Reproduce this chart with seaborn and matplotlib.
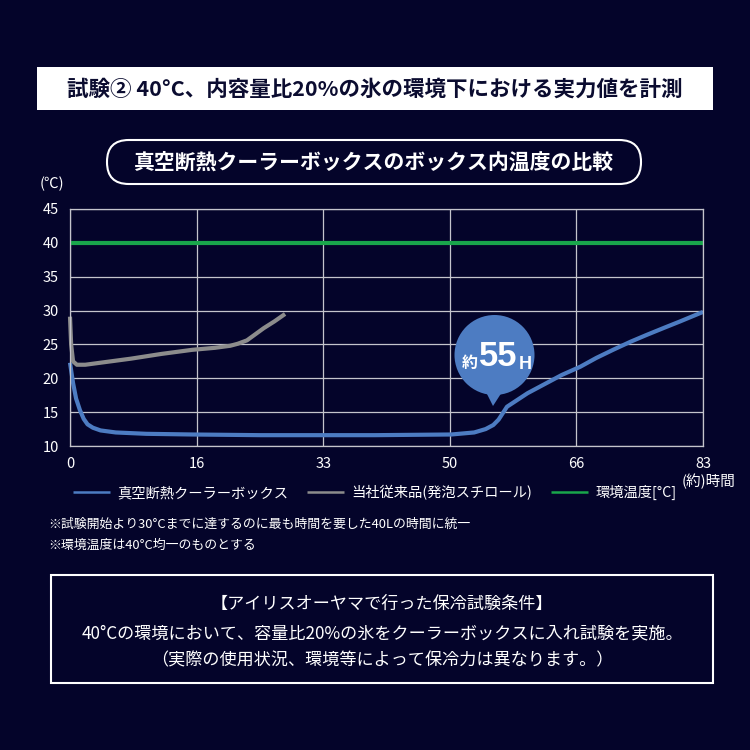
import numpy as np
import pandas as pd
import matplotlib
matplotlib.use("Agg")
import matplotlib.pyplot as plt
import seaborn as sns
from matplotlib.patches import Rectangle, FancyBboxPatch, Circle, Polygon

# ---------------- data ----------------
vacuum_hours = [0, 0.4, 0.8, 1.3, 1.8, 2.3, 3, 4, 6, 10, 16, 25, 33, 40, 50, 53,
                54.5, 55.5, 56.2, 57.3, 60, 62.5, 64.5, 66.9, 69, 71.2, 73.5,
                75.6, 78, 80, 83]
vacuum_temp = [22.3, 19.3, 17.0, 15.3, 14.0, 13.2, 12.7, 12.3, 12.0, 11.8, 11.7,
               11.6, 11.6, 11.6, 11.7, 12.0, 12.5, 13.1, 13.9, 15.8, 17.8, 19.3,
               20.5, 21.7, 23.0, 24.2, 25.4, 26.4, 27.5, 28.4, 29.8]
foam_hours = [0, 0.15, 0.4, 0.9, 2, 4, 8, 12, 16, 19, 21, 22, 23.2, 24.3, 25.4,
              26.8, 28.2]
foam_temp = [29.1, 25.0, 22.5, 22.0, 22.0, 22.3, 22.9, 23.6, 24.2, 24.5, 24.8,
             25.1, 25.6, 26.5, 27.4, 28.4, 29.5]
env_hours = [0, 83]
env_temp = [40, 40]

series_names = ["真空断熱クーラーボックス", "当社従来品(発泡スチロール)", "環境温度[°C]"]
x_tick_labels = ["0", "16", "33", "50", "66", "83"]
y_ticks = [10, 15, 20, 25, 30, 35, 40, 45]

df = pd.concat([
    pd.DataFrame({"h": vacuum_hours, "t": vacuum_temp, "s": series_names[0]}),
    pd.DataFrame({"h": foam_hours, "t": foam_temp, "s": series_names[1]}),
    pd.DataFrame({"h": env_hours, "t": env_temp, "s": series_names[2]}),
], ignore_index=True)

# ---------------- style ----------------
BG = "#04042a"
BLUE = "#4d7cc2"
GRAY = "#8c8c8c"
GREEN = "#19a64b"
GRID = "#c4c4cc"

sns.set_theme(style="dark")
plt.rcParams["font.family"] = ["Noto Sans CJK JP", "DejaVu Sans"]
plt.rcParams["axes.unicode_minus"] = False

fig = plt.figure(figsize=(7.5, 7.5), dpi=100, facecolor=BG)

def px(x, y):
    return x / 750, 1 - y / 750

ax = fig.add_axes([70 / 750, 1 - 446 / 750, 633 / 750, 237 / 750])
ax.set_facecolor(BG)

palette = {series_names[0]: BLUE, series_names[1]: GRAY, series_names[2]: GREEN}
sns.lineplot(data=df, x="h", y="t", hue="s", palette=palette, ax=ax,
             linewidth=3.0, sort=False, estimator=None, legend=True)
for ln in ax.lines:
    ln.set_clip_on(False)
    ln.set_solid_capstyle("butt")

ax.set_xlim(0, 83)
ax.set_ylim(10, 45)
ax.set_xticks(np.linspace(0, 83, len(x_tick_labels)))
ax.set_xticklabels(x_tick_labels)
ax.set_yticks(y_ticks)
ax.set_xlabel("")
ax.set_ylabel("")
ax.grid(True, color=GRID, linewidth=0.9)
ax.set_axisbelow(True)
for sp in ax.spines.values():
    sp.set_visible(True)
    sp.set_color(GRID)
    sp.set_linewidth(0.9)
ax.tick_params(axis="both", colors="white", labelsize=10.5, length=0)
ax.tick_params(axis="x", pad=8)
ax.tick_params(axis="y", pad=8)

# legend
leg = ax.legend(loc="upper left", bbox_to_anchor=(px(73, 485)), bbox_transform=fig.transFigure,
                ncol=3, frameon=False, fontsize=10.3, handlelength=2.6,
                handletextpad=0.5, columnspacing=1.3, borderaxespad=0, borderpad=0)
for t in leg.get_texts():
    t.set_color("white")
for l in leg.get_lines():
    l.set_linewidth(1.8)

# axis unit labels
fig.text(*px(52, 184), "(℃)", color="white", fontsize=10.5, ha="center", va="center")
fig.text(*px(709, 481), "(約)時間", color="white", fontsize=10.5, ha="center", va="center")

# title box
fig.add_artist(Rectangle(px(37, 110), 676 / 750, 43 / 750, transform=fig.transFigure,
                         facecolor="white", edgecolor="none"))
fig.text(*px(375, 89), "試験② 40°C、内容量比20%の氷の環境下における実力値を計測",
         color="#0b0c30", fontsize=15.5, fontweight="bold", ha="center", va="center")

# subtitle pill
fig.add_artist(FancyBboxPatch(px(107, 184), (641 - 107) / 750, 44 / 750,
                              boxstyle="round,pad=0,rounding_size=0.029",
                              transform=fig.transFigure, facecolor="none",
                              edgecolor="white", linewidth=1.5))
fig.text(*px(374, 162), "真空断熱クーラーボックスのボックス内温度の比較",
         color="white", fontsize=15, fontweight="bold", ha="center", va="center")

# bubble annotation
cx, cy = px(494.5, 355)
fig.add_artist(Circle((cx, cy), 40 / 750, transform=fig.transFigure,
                      facecolor=BLUE, edgecolor="none"))
fig.add_artist(Polygon([px(486, 392), px(502, 392), px(493, 406)], closed=True,
                       transform=fig.transFigure, facecolor=BLUE, edgecolor="none"))
fig.text(*px(470, 363), "約", color="white", fontsize=11.5, fontweight="bold",
         ha="center", va="center")
fig.text(*px(498, 357), "55", color="white", fontsize=25, fontweight="bold",
         ha="center", va="center", family=["Liberation Sans", "DejaVu Sans"])
fig.text(*px(525, 364), "H", color="white", fontsize=13, fontweight="bold",
         ha="center", va="center", family=["Liberation Sans", "DejaVu Sans"])

# notes
fig.text(*px(48, 524), "※試験開始より30°Cまでに達するのに最も時間を要した40Lの時間に統一",
         color="white", fontsize=9.3, ha="left", va="center")
fig.text(*px(48, 545), "※環境温度は40°C均一のものとする",
         color="white", fontsize=9.3, ha="left", va="center")

# conditions box
fig.add_artist(Rectangle(px(51, 683), 662 / 750, 108 / 750, transform=fig.transFigure,
                         facecolor="none", edgecolor="white", linewidth=1.5))
fig.text(*px(382, 604), "【アイリスオーヤマで行った保冷試験条件】", color="white",
         fontsize=12.3, ha="center", va="center")
fig.text(*px(382, 633), "40°Cの環境において、容量比20%の氷をクーラーボックスに入れ試験を実施。",
         color="white", fontsize=12.3, ha="center", va="center")
fig.text(*px(382, 660), "（実際の使用状況、環境等によって保冷力は異なります。）", color="white",
         fontsize=12.3, ha="center", va="center")

fig.savefig("out.png", dpi=100, facecolor=BG)
